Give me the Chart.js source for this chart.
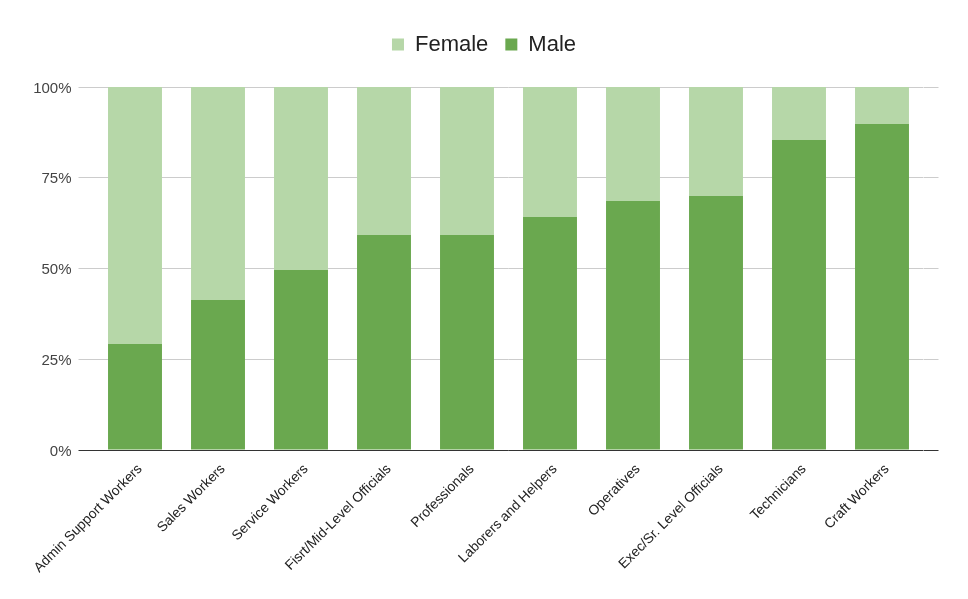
<!DOCTYPE html>
<html>
<head>
<meta charset="utf-8">
<script src="https://cdn.jsdelivr.net/npm/chart.js@4"></script>
<style>
  body { margin: 0; background: #fff; }
  #wrap { width: 968px; height: 599px; }
</style>
</head>
<body>
<div id="wrap"><canvas id="jobChart"></canvas></div>
<script>
const categories = ['Admin Support Workers', 'Sales Workers', 'Service Workers', 'Fisrt/Mid-Level Officials',
    'Professionals', 'Laborers and Helpers', 'Operatives', 'Exec/Sr. Level Officials', 'Technicians', 'Craft Workers'];
const malePct = [29.2, 41.3, 49.6, 59.2, 59.2, 64.2, 68.6, 70.0, 85.4, 89.8];
const femalePct = malePct.map(v => +(100 - v).toFixed(1));
const yTicks = [0, 25, 50, 75, 100];

const gridColor = c => (c.tick && c.tick.value === 0) ? '#333333' : '#cccccc';

// make the legend block a fixed height so the plot starts where the reference does
const legendHeight = {
    id: 'legendHeight',
    beforeInit(chart) {
        const fit = chart.legend.fit;
        chart.legend.fit = function () {
            fit.bind(chart.legend)();
            this.height = 70.5;
        };
    }
};

const ctx = document.getElementById('jobChart').getContext('2d');
const jobChart = new Chart(ctx, {
    type: 'bar',
    data: {
        labels: categories,
        datasets: [{
            label: 'Male',
            data: malePct,
            backgroundColor: '#6aa84f'
        }, {
            label: 'Female',
            data: femalePct,
            backgroundColor: '#b6d7a8'
        }]
    },
    options: {
        responsive: true,
        maintainAspectRatio: false,
        animation: false,
        layout: { padding: { top: 16.5, left: 0, right: 0, bottom: 0 } },
        datasets: { bar: { categoryPercentage: 1, barPercentage: 0.65 } },
        plugins: {
            tooltip: { enabled: false },
            legend: {
                position: 'top',
                reverse: true,
                labels: {
                    boxWidth: 12,
                    boxHeight: 12,
                    padding: 17,
                    color: '#222222',
                    font: { family: 'Liberation Sans, Arial, sans-serif', size: 22 }
                }
            }
        },
        scales: {
            x: {
                stacked: true,
                border: { display: false },
                grid: { display: false },
                afterFit: s => { s.height = 149; },
                ticks: {
                    autoSkip: false,
                    minRotation: 45,
                    maxRotation: 45,
                    labelOffset: 5,
                    color: '#222222',
                    font: { family: 'Liberation Sans, Arial, sans-serif', size: 13.8 }
                }
            },
            y: {
                stacked: true,
                min: 0,
                max: 100,
                border: { display: false },
                afterFit: s => { s.width = 93.5; },
                afterBuildTicks: s => { s.ticks = yTicks.map(v => ({ value: v })); },
                grid: { color: gridColor, tickColor: gridColor, tickLength: 15 },
                ticks: {
                    padding: 7,
                    labelOffset: 1.5,
                    color: '#444444',
                    font: { family: 'Liberation Sans, Arial, sans-serif', size: 15 },
                    callback: v => v + '%'
                }
            },
            y2: {
                position: 'right',
                min: 0,
                max: 100,
                border: { display: false },
                afterFit: s => { s.width = 44.5; },
                afterBuildTicks: s => { s.ticks = yTicks.map(v => ({ value: v })); },
                grid: { drawOnChartArea: false, color: gridColor, tickColor: gridColor, tickLength: 15 },
                ticks: { display: false }
            }
        }
    },
    plugins: [legendHeight]
});
</script>
</body>
</html>
